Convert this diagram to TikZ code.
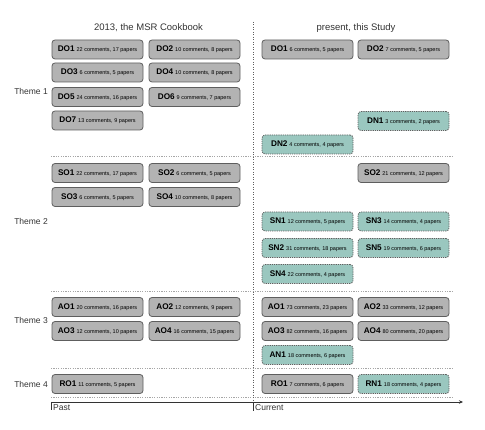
\documentclass[tikz,border=0pt]{standalone}
\usepackage{fontspec}
\setmainfont{Liberation Sans}
\usetikzlibrary{arrows.meta}
\definecolor{oldfill}{HTML}{B3B3B3}
\definecolor{newfill}{HTML}{9AC7BF}
\definecolor{edgegrey}{HTML}{5E5E5E}
\definecolor{txtgrey}{HTML}{333333}
\definecolor{sepgrey}{HTML}{A6A6A6}
\newcommand{\lbl}[2]{{\fontsize{8.2}{9}\selectfont\bfseries #1}\hspace{2pt}{\fontsize{5.5}{6}\selectfont #2}}
\tikzset{
  boxbase/.style={minimum width=91pt, minimum height=19pt, inner sep=0pt, rounded corners=3pt, text=black, line width=0.8pt},
  oldbox/.style={boxbase, draw=edgegrey, fill=oldfill},
  newbox/.style={boxbase, draw=edgegrey, fill=newfill, dash pattern=on 1.2pt off 1pt},
  theme/.style={anchor=east, inner sep=0pt, text=txtgrey, font=\fontsize{8.5}{10}\selectfont},
  coltitle/.style={inner sep=0pt, text=txtgrey, font=\fontsize{9.5}{11}\selectfont},
  sepline/.style={draw=sepgrey, line width=0.6pt, dash pattern=on 1.2pt off 1.2pt},
  axislbl/.style={anchor=west, inner sep=0pt, text=txtgrey, font=\fontsize{8.5}{10}\selectfont}
}
\begin{document}
\begin{tikzpicture}[x=1pt,y=-1pt]
\useasboundingbox (0,0) rectangle (485,430);
\def\ca{97.5}\def\cb{194.5}\def\cc{307.5}\def\cd{403.5}
% titles
\node[coltitle] (t1) at (148.5,28) {2013, the MSR Cookbook};
\node[coltitle] (t2) at (356,28) {present, this Study};
% theme labels
\node[theme] (th1) at (48,91) {Theme 1};
\node[theme] (th2) at (48,221) {Theme 2};
\node[theme] (th3) at (48,320) {Theme 3};
\node[theme] (th4) at (48,384) {Theme 4};
% separators
\coordinate (s1a) at (51,156); \coordinate (s1b) at (453,156);
\coordinate (s2a) at (51,291); \coordinate (s2b) at (453,291);
\coordinate (s3a) at (51,368); \coordinate (s3b) at (453,368);
\coordinate (s4a) at (51,397); \coordinate (s4b) at (453,397);
\draw[sepline] (s1a) -- (s1b);
\draw[sepline] (s2a) -- (s2b);
\draw[sepline] (s3a) -- (s3b);
\draw[sepline] (s4a) -- (s4b);
% vertical divider
\coordinate (vtop) at (253,22); \coordinate (vbot) at (253,402); \coordinate (vtick) at (253,411);
\draw[draw=edgegrey, line width=0.6pt, dash pattern=on 1pt off 1.5pt] (vtop) -- (vbot);
% axis
\coordinate (ax0) at (51,402); \coordinate (ax1) at (463,402); \coordinate (pt0) at (51,410);
\draw[draw=txtgrey, line width=0.6pt, -{Stealth[length=4pt,width=3.5pt]}] (ax0) -- (ax1);
\draw[draw=txtgrey, line width=0.6pt] (ax0) -- (pt0);
\draw[draw=txtgrey, line width=0.6pt] (vbot) -- (vtick);
\node[axislbl] (past) at (53,407.5) {Past};
\node[axislbl] (curr) at (255,407.5) {Current};
% Theme 1 past
\node[oldbox] (LDO1) at (\ca,49.5) {\lbl{DO1}{22 comments, 17 papers}};
\node[oldbox] (LDO2) at (\cb,49.5) {\lbl{DO2}{10 comments, 8 papers}};
\node[oldbox] (LDO3) at (\ca,72.5) {\lbl{DO3}{6 comments, 5 papers}};
\node[oldbox] (LDO4) at (\cb,72.5) {\lbl{DO4}{10 comments, 8 papers}};
\node[oldbox] (LDO5) at (\ca,97) {\lbl{DO5}{24 comments, 16 papers}};
\node[oldbox] (LDO6) at (\cb,97) {\lbl{DO6}{9 comments, 7 papers}};
\node[oldbox] (LDO7) at (\ca,120.5) {\lbl{DO7}{13 comments, 9 papers}};
% Theme 1 present
\node[oldbox] (RDO1) at (\cc,49.5) {\lbl{DO1}{6 comments, 5 papers}};
\node[oldbox] (RDO2) at (\cd,49.5) {\lbl{DO2}{7 comments, 5 papers}};
\node[newbox] (RDN1) at (\cd,121) {\lbl{DN1}{3 comments, 2 papers}};
\node[newbox] (RDN2) at (\cc,144.5) {\lbl{DN2}{4 comments, 4 papers}};
% Theme 2 past
\node[oldbox] (LSO1) at (\ca,173) {\lbl{SO1}{22 comments, 17 papers}};
\node[oldbox] (LSO2) at (\cb,173) {\lbl{SO2}{6 comments, 5 papers}};
\node[oldbox] (LSO3) at (\ca,197) {\lbl{SO3}{6 comments, 5 papers}};
\node[oldbox] (LSO4) at (\cb,197) {\lbl{SO4}{10 comments, 8 papers}};
% Theme 2 present
\node[oldbox] (RSO2) at (\cd,173) {\lbl{SO2}{21 comments, 12 papers}};
\node[newbox] (RSN1) at (\cc,221.5) {\lbl{SN1}{12 comments, 5 papers}};
\node[newbox] (RSN3) at (\cd,221.5) {\lbl{SN3}{14 comments, 4 papers}};
\node[newbox] (RSN2) at (\cc,248) {\lbl{SN2}{31 comments, 18 papers}};
\node[newbox] (RSN5) at (\cd,248) {\lbl{SN5}{19 comments, 6 papers}};
\node[newbox] (RSN4) at (\cc,274) {\lbl{SN4}{22 comments, 4 papers}};
% Theme 3 past
\node[oldbox] (LAO1) at (\ca,307) {\lbl{AO1}{20 comments, 16 papers}};
\node[oldbox] (LAO2) at (\cb,307) {\lbl{AO2}{12 comments, 9 papers}};
\node[oldbox] (LAO3) at (\ca,331) {\lbl{AO3}{12 comments, 10 papers}};
\node[oldbox] (LAO4) at (\cb,331) {\lbl{AO4}{16 comments, 15 papers}};
% Theme 3 present
\node[oldbox] (RAO1) at (\cc,307) {\lbl{AO1}{73 comments, 23 papers}};
\node[oldbox] (RAO2) at (\cd,307) {\lbl{AO2}{33 comments, 12 papers}};
\node[oldbox] (RAO3) at (\cc,331) {\lbl{AO3}{82 comments, 16 papers}};
\node[oldbox] (RAO4) at (\cd,331) {\lbl{AO4}{80 comments, 20 papers}};
\node[newbox] (RAN1) at (\cc,355) {\lbl{AN1}{18 comments, 6 papers}};
% Theme 4
\node[oldbox] (LRO1) at (\ca,384) {\lbl{RO1}{11 comments, 5 papers}};
\node[oldbox] (RRO1) at (\cc,384) {\lbl{RO1}{7 comments, 6 papers}};
\node[newbox] (RRN1) at (\cd,384) {\lbl{RN1}{18 comments, 4 papers}};
\end{tikzpicture}
\end{document}
